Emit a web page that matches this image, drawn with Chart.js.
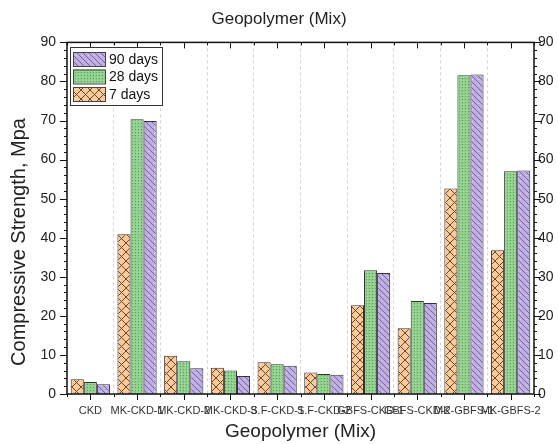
<!DOCTYPE html>
<html>
<head>
<meta charset="utf-8">
<script src="https://cdn.jsdelivr.net/npm/chart.js@4.4.1/dist/chart.umd.min.js"></script>
<style>
  html, body { margin: 0; padding: 0; background: #fff; }
</style>
</head>
<body>
<canvas id="myChart" width="558" height="444"></canvas>
<script>
const mixLabels = ["CKD", "MK-CKD-1", "MK-CKD-2", "MK-CKD-3", "S.F-CKD-1", "S.F-CKD-2",
  "GBFS-CKD-1", "GBFS-CKD-2", "MK-GBFS-1", "MK-GBFS-2"];
const days7 = [3.8, 40.9, 9.8, 6.7, 8.1, 5.5, 22.7, 16.8, 52.6, 36.8];
const days28 = [3.1, 70.3, 8.4, 6.0, 7.6, 5.1, 31.7, 23.8, 81.6, 57.0];
const days90 = [2.5, 69.9, 6.6, 4.6, 7.2, 4.9, 31.0, 23.3, 81.8, 57.2];
const yMin = 0;
const yMax = 90;
const yStep = 10;

const FONT = "'Liberation Sans', Arial, sans-serif";

// hatch patterns like the original plot
const makePattern = (bg, size, draw) => {
  const c = document.createElement("canvas");
  c.width = size;
  c.height = size;
  const g = c.getContext("2d");
  g.fillStyle = bg;
  g.fillRect(0, 0, size, size);
  draw(g, size);
  return g.createPattern(c, "repeat");
};

const crossPat = makePattern("#fdc996", 9, (g, s) => {
  g.strokeStyle = "#5e4a36";
  g.lineWidth = 1;
  g.beginPath();
  g.moveTo(0, 0); g.lineTo(s, s);
  g.moveTo(s, 0); g.lineTo(0, s);
  g.stroke();
});

const dotPat = makePattern("#8fd08c", 3, (g) => {
  g.fillStyle = "#5f9e5c";
  g.fillRect(0, 0, 1, 1);
  g.fillStyle = "#a9dea6";
  g.fillRect(1, 2, 1, 1);
});

const wavePat = makePattern("#bfaee6", 6, (g, s) => {
  g.strokeStyle = "#6e5e8e";
  g.lineWidth = 0.9;
  g.beginPath();
  g.moveTo(0, 0); g.lineTo(s, s);
  g.moveTo(-s / 2, s / 2); g.lineTo(s / 2, s * 1.5);
  g.moveTo(s / 2, -s / 2); g.lineTo(s * 1.5, s / 2);
  g.stroke();
  g.fillStyle = "#dcd2f2";
  g.fillRect(4, 1, 1, 1);
});

const frame = {
  id: "frame",
  afterDraw(chart) {
    const { ctx, chartArea: a, scales: { x, y } } = chart;
    const line = (x1, y1, x2, y2) => {
      ctx.beginPath();
      ctx.moveTo(x1, y1);
      ctx.lineTo(x2, y2);
      ctx.stroke();
    };
    ctx.save();
    ctx.strokeStyle = "#111";
    ctx.lineWidth = 1;
    // x ticks: major at centers, minor at group bounds
    mixLabels.forEach((l, i) => {
      const cx = Math.round(x.getPixelForValue(i)) + 0.5;
      line(cx, a.bottom, cx, a.bottom + 6);
      line(cx, a.top, cx, a.top + 6);
    });
    for (let i = 0; i <= mixLabels.length; i++) {
      const bx = Math.round(x.getPixelForValue(i - 0.5)) + 0.5;
      line(bx, a.bottom, bx, a.bottom + 3);
      line(bx, a.top, bx, a.top + 3);
    }
    // y ticks, both sides
    for (let v = yMin; v <= yMax; v += 2) {
      const py = Math.round(y.getPixelForValue(v)) + 0.5;
      const len = v % yStep === 0 ? 7 : 3;
      line(a.left - len, py, a.left, py);
      line(a.right, py, a.right + len, py);
    }
    ctx.lineWidth = 1.5;
    ctx.strokeRect(a.left, a.top, a.right - a.left, a.bottom - a.top);

    // y axis title
    ctx.save();
    ctx.translate(19, 242);
    ctx.rotate(-Math.PI / 2);
    ctx.font = "20px " + FONT;
    ctx.fillStyle = "#222";
    ctx.textAlign = "center";
    ctx.textBaseline = "middle";
    ctx.fillText("Compressive Strength, Mpa", 0, 0);
    ctx.restore();

    // legend box inside plot
    const lx = 70, ly = 47, lw = 92, lh = 58;
    ctx.lineWidth = 1;
    ctx.fillStyle = "#fff";
    ctx.fillRect(lx, ly, lw, lh);
    ctx.strokeStyle = "#333";
    ctx.strokeRect(lx + 0.5, ly + 0.5, lw, lh);
    const items = [
      ["90 days", wavePat],
      ["28 days", dotPat],
      ["7 days", crossPat],
    ];
    ctx.font = "14px " + FONT;
    ctx.textBaseline = "middle";
    items.forEach(([txt, pat], i) => {
      const sy = ly + 5 + i * 17.5;
      ctx.fillStyle = pat;
      ctx.fillRect(lx + 3, sy, 32, 14);
      ctx.strokeStyle = "#444";
      ctx.strokeRect(lx + 3.5, sy + 0.5, 32, 14);
      ctx.fillStyle = "#111";
      ctx.fillText(txt, lx + 39, sy + 8);
    });
    ctx.restore();
  },
};

const data = {
  labels: mixLabels,
  datasets: [
    { label: "7 days", data: days7, backgroundColor: crossPat },
    { label: "28 days", data: days28, backgroundColor: dotPat },
    { label: "90 days", data: days90, backgroundColor: wavePat },
  ].map((d) => ({ ...d, borderColor: "#333", borderWidth: 1, yAxisID: "y" })),
};

const config = {
  type: "bar",
  data: data,
  options: {
    responsive: false,
    animation: false,
    devicePixelRatio: 1,
    categoryPercentage: 0.84,
    barPercentage: 1,
    layout: { padding: 0 },
    plugins: {
      legend: { display: false },
      tooltip: { enabled: false },
      title: {
        display: true,
        text: "Geopolymer (Mix)",
        color: "#222",
        font: { family: FONT, size: 17, weight: "normal" },
        padding: { top: 9, bottom: 13 },
      },
    },
    scales: {
      x: {
        offset: true,
        grid: { display: true, offset: true, drawTicks: false, color: "#d4d4d4" },
        border: { display: false, dash: [3, 3] },
        ticks: {
          autoSkip: false,
          maxRotation: 0,
          minRotation: 0,
          padding: 10,
          color: "#333",
          font: { family: FONT, size: 11 },
        },
        title: {
          display: true,
          text: "Geopolymer (Mix)",
          color: "#222",
          font: { family: FONT, size: 19 },
          padding: { top: 0, bottom: 1 },
        },
        afterFit: (s) => { s.height = 50; },
      },
      y: {
        position: "left",
        min: yMin,
        max: yMax,
        grid: { display: false, drawTicks: false },
        border: { display: false },
        ticks: {
          stepSize: yStep,
          padding: 11,
          color: "#222",
          font: { family: FONT, size: 14 },
        },
        afterFit: (s) => { s.width = 67; },
      },
      y2: {
        position: "right",
        min: yMin,
        max: yMax,
        grid: { display: false, drawTicks: false },
        border: { display: false },
        ticks: {
          stepSize: yStep,
          padding: 4,
          color: "#222",
          font: { family: FONT, size: 14 },
        },
        afterFit: (s) => { s.width = 24; },
      },
    },
  },
  plugins: [frame],
};

new Chart(document.getElementById("myChart"), config);
</script>
</body>
</html>
